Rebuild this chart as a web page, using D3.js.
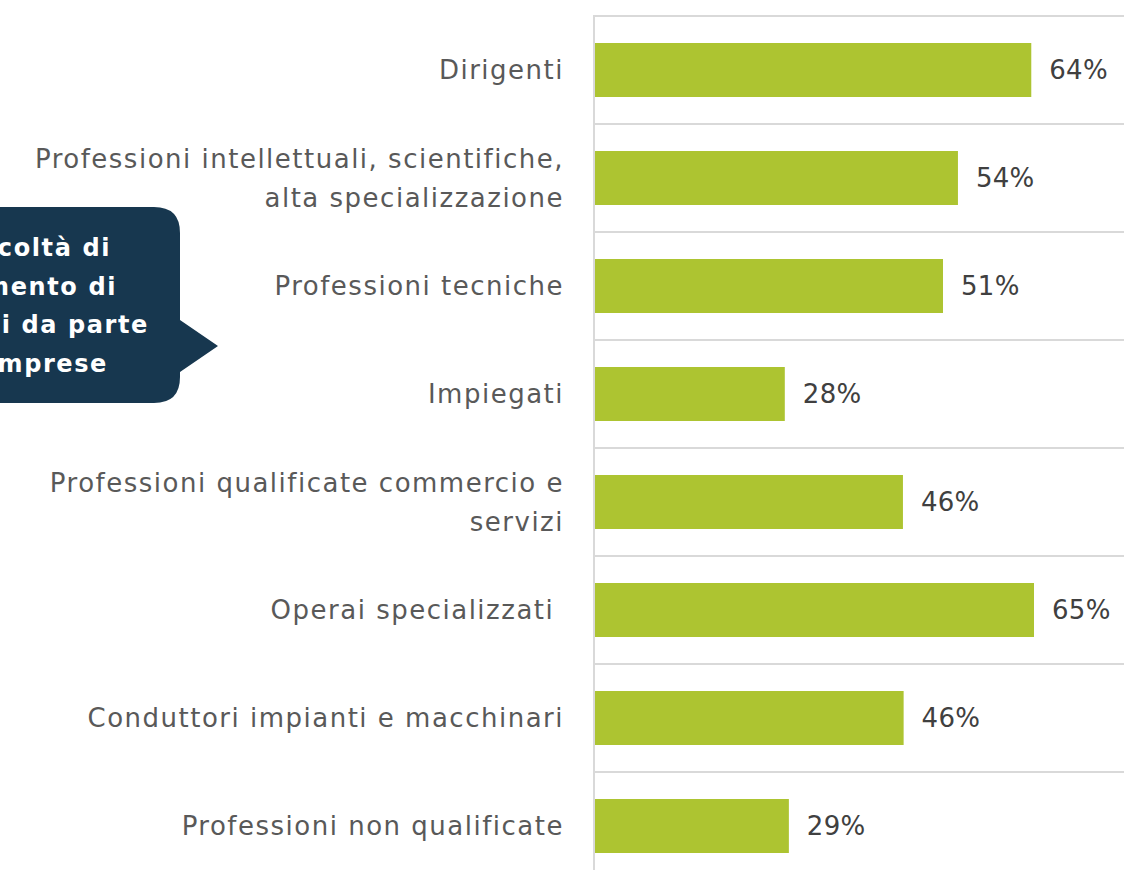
<!DOCTYPE html>
<html>
<head>
<meta charset="utf-8">
<script src="https://cdn.jsdelivr.net/npm/d3@7"></script>
<style>
  html, body { margin: 0; padding: 0; background: #ffffff; overflow: hidden; }
  svg { display: block; }
</style>
</head>
<body>
<svg id="chart" width="1124" height="870"></svg>
<script>
const categories = [
  "Dirigenti",
  "Professioni intellettuali, scientifiche,\nalta specializzazione",
  "Professioni tecniche",
  "Impiegati",
  "Professioni qualificate commercio e\nservizi",
  "Operai specializzati ",
  "Conduttori impianti e macchinari",
  "Professioni non qualificate"
];
const values = [64.4, 53.6, 51.4, 28.1, 45.5, 64.8, 45.6, 28.7];
const valueLabels = ["64%", "54%", "51%", "28%", "46%", "65%", "46%", "29%"];
const calloutLines = ["Difficoltà di", "reperimento di", "profili da parte", "delle imprese"];

const svg = d3.select("#chart");
const W = 1124, H = 870;
const axisX = 594;

const x = d3.scaleLinear().domain([0, 100]).range([axisX, axisX + 679]);
const y = d3.scaleBand().domain(categories).range([16, 880]).paddingInner(0.5).paddingOuter(0.25);

const fontFam = "'DejaVu Sans', sans-serif";

// gridlines at band boundaries
const step = y.step();
const bounds = categories.map((c, i) => y(c) - step * 0.25);
svg.append("g").selectAll("line").data(bounds).join("line")
  .attr("x1", axisX).attr("x2", W)
  .attr("y1", d => d).attr("y2", d => d)
  .attr("stroke", "#d9d9d9").attr("stroke-width", 2);

// vertical axis line
svg.append("line")
  .attr("x1", axisX).attr("x2", axisX)
  .attr("y1", bounds[0] - 1).attr("y2", H)
  .attr("stroke", "#d9d9d9").attr("stroke-width", 2);

// bars
svg.append("g").selectAll("rect").data(categories).join("rect")
  .attr("x", axisX + 1)
  .attr("y", d => y(d))
  .attr("width", (d, i) => x(values[i]) - axisX - 1)
  .attr("height", y.bandwidth())
  .attr("fill", "#adc431");

// value labels
svg.append("g").selectAll("text").data(categories).join("text")
  .attr("x", (d, i) => x(values[i]) + 18)
  .attr("y", d => y(d) + y.bandwidth() / 2)
  .attr("dy", "0.36em")
  .attr("font-family", fontFam)
  .attr("font-size", 26)
  .attr("letter-spacing", 0.3)
  .attr("fill", "#404040")
  .text((d, i) => valueLabels[i]);

// category labels
const catG = svg.append("g");
categories.forEach(c => {
  const lines = c.split("\n");
  const cy = y(c) + y.bandwidth() / 2;
  const lh = 39;
  const t = catG.append("text")
    .attr("text-anchor", "end")
    .attr("font-family", fontFam)
    .attr("font-size", 26)
    .attr("letter-spacing", 1.5)
    .attr("fill", "#595959")
    .style("white-space", "pre");
  lines.forEach((ln, j) => {
    t.append("tspan")
      .attr("x", 564)
      .attr("y", cy + (j - (lines.length - 1) / 2) * lh)
      .attr("dy", "0.36em")
      .text(ln);
  });
});

// callout
const cg = svg.append("g");
const bx0 = -60, bx1 = 180, by0 = 207, by1 = 403, r = 26;
const path = d3.path();
path.moveTo(bx0 + r, by0);
path.lineTo(bx1 - r, by0);
path.quadraticCurveTo(bx1, by0, bx1, by0 + r);
path.lineTo(bx1, 320);
path.lineTo(218, 346);
path.lineTo(bx1, 372);
path.lineTo(bx1, by1 - r);
path.quadraticCurveTo(bx1, by1, bx1 - r, by1);
path.lineTo(bx0 + r, by1);
path.quadraticCurveTo(bx0, by1, bx0, by1 - r);
path.lineTo(bx0, by0 + r);
path.quadraticCurveTo(bx0, by0, bx0 + r, by0);
path.closePath();
cg.append("path").attr("d", path.toString()).attr("fill", "#17374f");

const calloutRight = [111, 117, 149, 108];
calloutLines.forEach((ln, i) => {
  cg.append("text")
    .attr("x", calloutRight[i])
    .attr("y", 256 + i * 38.5)
    .attr("text-anchor", "end")
    .attr("font-family", fontFam)
    .attr("font-weight", "bold")
    .attr("font-size", 24)
    .attr("letter-spacing", 1.6)
    .attr("fill", "#ffffff")
    .text(ln);
});
</script>
</body>
</html>
